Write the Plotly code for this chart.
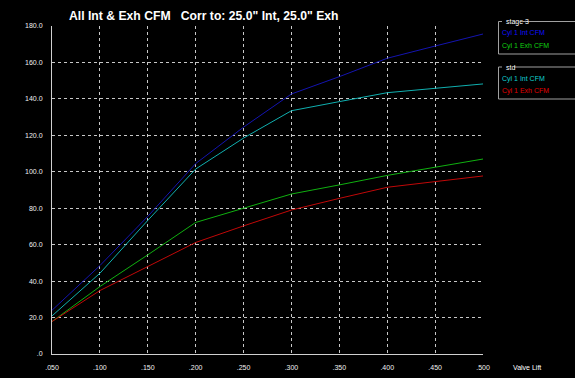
import plotly.graph_objects as go

lift = [0.05, 0.10, 0.15, 0.20, 0.25, 0.30, 0.35, 0.40, 0.45, 0.50]
stage3_int = [24.0, 48.5, 75.5, 104.5, 124.5, 142.7, 152.2, 162.3, 169.0, 175.6]
stage3_exh = [17.8, 37.0, 54.4, 72.2, 80.0, 87.8, 92.8, 98.0, 102.5, 107.0]
std_int = [20.9, 44.3, 73.3, 101.5, 118.5, 133.5, 138.5, 143.4, 145.8, 148.2]
std_exh = [17.8, 34.8, 48.0, 61.2, 70.3, 79.0, 85.4, 91.5, 94.6, 97.7]

x_ticks = [0.05, 0.10, 0.15, 0.20, 0.25, 0.30, 0.35, 0.40, 0.45, 0.50]
x_labels = [".050", ".100", ".150", ".200", ".250", ".300", ".350", ".400", ".450", ".500"]
y_ticks = [0, 20, 40, 60, 80, 100, 120, 140, 160, 180]
y_labels = [".0", "20.0", "40.0", "60.0", "80.0", "100.0", "120.0", "140.0", "160.0", "180.0"]

series = [
    ("Cyl 1 Int CFM", stage3_int, "#1414b0"),
    ("Cyl 1 Exh CFM", stage3_exh, "#10b010"),
    ("Cyl 1 Int CFM", std_int, "#10b0b0"),
    ("Cyl 1 Exh CFM", std_exh, "#c00808"),
]

fig = go.Figure()
for name, vals, col in series:
    fig.add_trace(go.Scatter(x=lift, y=vals, mode="lines", name=name,
                             line=dict(color=col, width=1), showlegend=False))

W, H = 575, 378
L, R, T, B = 52, 92, 26, 24

def px(x):
    return (x - L) / (W - L - R)

def py(y):
    return 1 - (y - T) / (H - T - B)

fig.update_layout(
    width=W, height=H,
    margin=dict(l=L, r=R, t=T, b=B),
    paper_bgcolor="black", plot_bgcolor="black",
    font=dict(family="Liberation Sans, Arial", color="white", size=7),
    xaxis=dict(range=[0.05, 0.5], tickvals=x_ticks, ticktext=x_labels, automargin=False,
               showgrid=True, gridcolor="#c8c8c8", griddash="dot", gridwidth=1,
               showline=True, linecolor="#d0d0d0", linewidth=1, zeroline=False,
               ticks="", ticklabelstandoff=7, tickfont=dict(size=7, color="#f0f0f0")),
    yaxis=dict(range=[0, 180], tickvals=y_ticks, ticktext=y_labels, automargin=False,
               showgrid=True, gridcolor="#c8c8c8", griddash="dot", gridwidth=1,
               showline=True, linecolor="#d0d0d0", linewidth=1, zeroline=False,
               ticks="", ticklabelstandoff=7, tickfont=dict(size=7, color="#f0f0f0")),
)

ann = []
ann.append(dict(text="<b>All Int &amp; Exh CFM   Corr to: 25.0\" Int, 25.0\" Exh</b>",
                x=px(66.5), y=py(16), xref="paper", yref="paper", xanchor="left", yanchor="middle",
                showarrow=False, font=dict(size=12.2, color="white", family="Liberation Sans, Arial")))
ann.append(dict(text="Valve Lift", x=px(511), y=py(367), xref="paper", yref="paper",
                xanchor="left", yanchor="middle", showarrow=False,
                font=dict(size=7, color="white")))

# legend group boxes
shapes = []
box_col = "#a0a0a0"
for top, bot, title, tw in [(21.5, 54, "stage 3", 17), (67, 99, "std", 8)]:
    shapes.append(dict(type="path", xref="paper", yref="paper",
                       path=f"M {px(502)},{py(top)} L {px(498.5)},{py(top)} L {px(498.5)},{py(bot)} L {px(580)},{py(bot)}",
                       line=dict(color=box_col, width=1)))
    shapes.append(dict(type="line", xref="paper", yref="paper",
                       x0=px(506 + tw), x1=px(580), y0=py(top), y1=py(top),
                       line=dict(color=box_col, width=1)))
    ann.append(dict(text=title, x=px(504), y=py(top), xref="paper", yref="paper",
                    xanchor="left", yanchor="middle", showarrow=False,
                    font=dict(size=7, color="white")))

items = [("Cyl 1 Int CFM", "#1010ff", 33.5), ("Cyl 1 Exh CFM", "#10d010", 46),
         ("Cyl 1 Int CFM", "#10d0d0", 78.5), ("Cyl 1 Exh CFM", "#e00000", 91)]
for t, c, yy in items:
    ann.append(dict(text=t, x=px(500), y=py(yy), xref="paper", yref="paper",
                    xanchor="left", yanchor="middle", showarrow=False,
                    font=dict(size=7, color=c)))

fig.update_layout(annotations=ann, shapes=shapes)
fig.write_html("out.html", config={"displayModeBar": False},
               post_script="document.body.style.margin='0';document.body.style.overflow='hidden';document.body.style.background='black';")
